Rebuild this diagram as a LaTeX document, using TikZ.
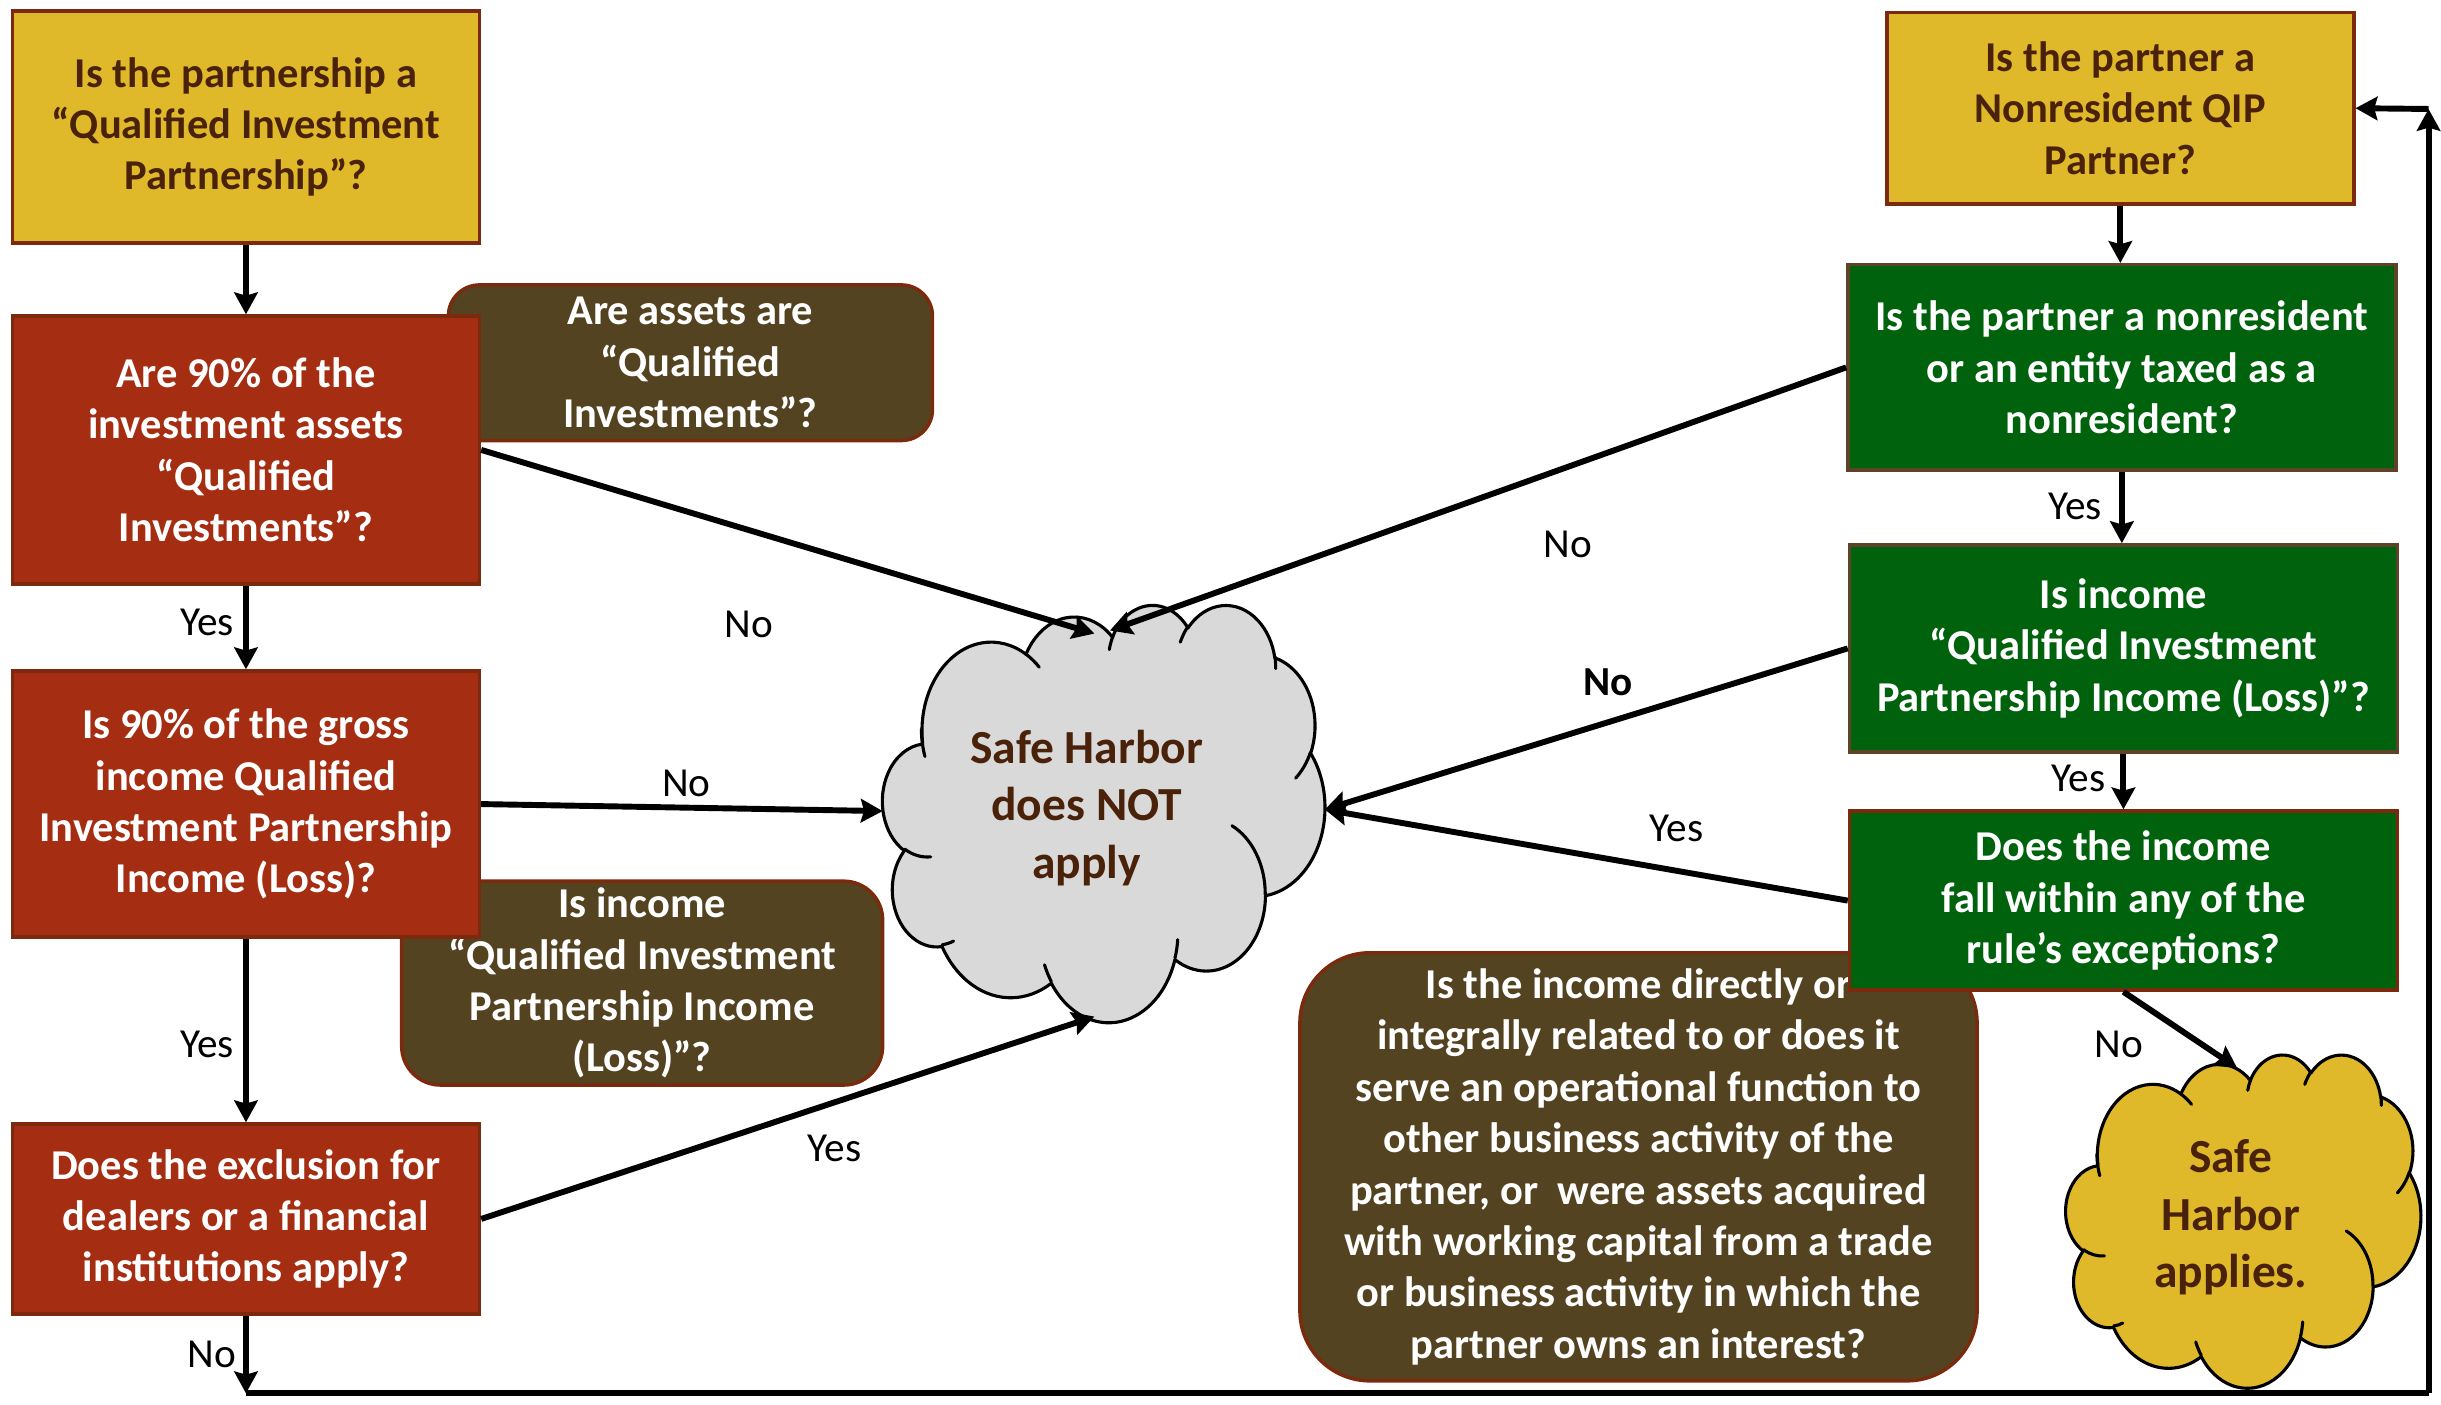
\documentclass[tikz,border=0pt]{standalone}
\usepackage{fontspec}
\setmainfont{Carlito}
\usetikzlibrary{arrows.meta}
\definecolor{gold}{HTML}{E0B92A}
\definecolor{rust}{HTML}{A52D11}
\definecolor{olive}{HTML}{544321}
\definecolor{grn}{HTML}{00620C}
\definecolor{bdr}{HTML}{7B2A0E}
\definecolor{gbdr}{HTML}{5D4328}
\definecolor{dtxt}{HTML}{4A2109}
\definecolor{cgray}{HTML}{D9D9D9}
\tikzset{
  boxbase/.style={rectangle, line width=2.2pt, inner sep=0pt, align=center,
    font=\bfseries\fontsize{27.3}{33}\selectfont,
    execute at begin node={\rule{0pt}{25pt}}},
  goldbox/.style={boxbase, fill=gold, draw=bdr, text=dtxt},
  rustbox/.style={boxbase, fill=rust, draw=bdr, text=white},
  olivebox/.style={boxbase, fill=olive, draw=bdr, text=white, rounded corners=#1},
  greenbox/.style={boxbase, fill=grn, draw=gbdr, text=white},
  cloudtext/.style={align=center, inner sep=0pt, text=dtxt,
    font=\bfseries\fontsize{30.5}{37}\selectfont},
  arr/.style={line width=3.8pt, draw=black, -{Stealth[length=14pt,width=15pt,inset=2pt]}},
  plain/.style={line width=3.8pt, draw=black},
  lbl/.style={font=\fontsize{26.5}{30}\selectfont, text=black, inner sep=0pt},
  lblb/.style={font=\bfseries\fontsize{26.5}{30}\selectfont, text=black, inner sep=0pt}
}
% arc with DrawingML (visual) angles
\newcommand\cldarc[4]{arc[x radius=#1, y radius=#2, start angle={cvis(#1,#2,#3)}, delta angle={cdlt(#1,#2,#3,#4)}]}
% PowerPoint-like cloud: #1 left, #2 top, #3 width, #4 height, #5 fill
\newcommand\pptcloud[5]{%
\begin{scope}[shift={(#1,#2)}, xscale={#3/432}, yscale={#4/432}]
\filldraw[fill=#5, draw=black, line width=2pt, line join=round]
  (39.00,143.70)
  \cldarc{67.53}{91.90}{-190.4875}{123.7805}
  \cldarc{53.33}{72.67}{-144.1024}{89.9452}
  \cldarc{43.65}{59.45}{-145.8079}{99.7230}
  \cldarc{48.57}{65.95}{-130.9861}{117.2417}
  \cldarc{53.33}{72.73}{-78.7089}{109.0269}
  \cldarc{67.75}{92.20}{-46.2673}{130.2690}
  \cldarc{57.85}{78.67}{0.6250}{114.0333}
  \cldarc{67.52}{92.15}{22.4516}{115.1726}
  \cldarc{77.20}{105.43}{66.2426}{75.7110}
  \cldarc{43.60}{59.18}{-274.9421}{146.7356}
  \cldarc{43.45}{59.45}{-246.8285}{152.5189}
  -- cycle;
\draw[line width=2pt, line cap=round]
  (46.93,261.77) \cldarc{43.45}{59.45}{86.7420}{26.4295}
  (69.28,348.99) \cldarc{43.60}{59.18}{73.6105}{11.4475}
  (164.78,390.90) \cldarc{67.52}{92.15}{137.6242}{14.0811}
  (288.27,347.51) \cldarc{67.52}{92.15}{6.4533}{15.9984}
  (341.29,229.54) \cldarc{57.85}{78.67}{-70.2924}{70.9174}
  (417.98,153.54) \cldarc{53.33}{72.73}{30.3180}{27.7515}
  (383.24,54.26) \cldarc{48.57}{65.95}{-13.7443}{14.8589}
  (290.78,39.52) \cldarc{48.57}{65.95}{-149.1815}{18.1954}
  (221.41,47.20) \cldarc{43.65}{59.45}{-163.4943}{17.6864}
  (140.00,51.92) \cldarc{67.53}{91.90}{-66.7070}{12.3194}
  (41.27,157.89) \cldarc{67.53}{91.90}{155.6384}{23.775};
\end{scope}}
\begin{document}
\begin{tikzpicture}[x=1pt,y=-1pt,
  declare function={cvis(\a,\b,\t)=atan2(\a*sin(\t),\b*cos(\t));
                    cdlt(\a,\b,\s,\w)=mod(cvis(\a,\b,\s+\w)-cvis(\a,\b,\s)+720,360);}]
\useasboundingbox[fill=white] (0,0) rectangle (1568,902);

% left column
\node[goldbox, minimum width=300pt, minimum height=149pt] (A) at (158,81.5)
  {Is the partnership a\\“Qualified Investment\\Partnership”?};
\node[olivebox=20pt, minimum width=311pt, minimum height=100pt] (C) at (443.5,233)
  {Are assets are\\“Qualified\\Investments”?};
\node[rustbox, minimum width=300pt, minimum height=172pt] (B) at (158,289)
  {Are 90\% of the\\investment assets\\“Qualified\\Investments”?};
\node[olivebox=25pt, minimum width=309pt, minimum height=131pt] (E) at (412.5,631.5)
  {Is income\\“Qualified Investment\\Partnership Income\\(Loss)”?};
\node[rustbox, minimum width=300pt, minimum height=171pt] (D) at (158,516.5)
  {Is 90\% of the gross\\income Qualified\\Investment Partnership\\Income (Loss)?};
\node[rustbox, minimum width=300pt, minimum height=122pt] (F) at (158,783)
  {Does the exclusion for\\dealers or a financial\\institutions apply?};

% right column
\node[goldbox, minimum width=300pt, minimum height=123pt] (G) at (1362,69.5)
  {Is the partner a\\Nonresident QIP\\Partner?};
\node[greenbox, minimum width=352pt, minimum height=132pt] (H) at (1363,236)
  {Is the partner a nonresident\\or an entity taxed as a\\nonresident?};
\node[greenbox, minimum width=352pt, minimum height=133pt] (I) at (1364,416.5)
  {Is income\\“Qualified Investment\\Partnership Income (Loss)”?};
\node[olivebox=45pt, minimum width=435pt, minimum height=275pt] (K) at (1052.5,749.5)
  {Is the income directly or\\integrally related to or does it\\serve an operational function to\\other business activity of the\\partner, or\ \ were assets acquired\\with working capital from a trade\\or business activity in which the\\partner owns an interest?};
\node[greenbox, draw=bdr, minimum width=352pt, minimum height=115pt] (J) at (1364,578.5)
  {Does the income\\fall within any of the\\rule’s exceptions?};

% clouds
\pptcloud{567}{388}{284}{268}{cgray}
\node[cloudtext] (L) at (698,519) {Safe Harbor\\does NOT\\apply};
\pptcloud{1327}{677}{228}{214}{gold}
\node[cloudtext] (M) at (1433,782) {Safe\\Harbor\\applies.};

\coordinate (Lt1) at (703,407);
\coordinate (Lt2) at (713,405);
\coordinate (Ll) at (567,521);
\coordinate (Lr) at (851,520);
\coordinate (Lb) at (703,653);
\coordinate (Mt) at (1437,686);
\coordinate (bl) at (158,895);
\coordinate (br) at (1560,895);
\coordinate (tr) at (1560,70);

% connectors left
\draw[arr] (A) -- (B);
\draw[arr] (B) -- (D) node[lbl] at (133,400) {Yes};
\draw[arr] (D) -- (F) node[lbl] at (133,671) {Yes};
\draw[arr] (F) -- (bl) node[lbl] at (136,870) {No};
\draw[plain] (bl) -- (br);
\draw[arr] (br) -- (tr);
\draw[arr] (tr) -- (G.east);
\draw[arr] (B.east) -- (Lt1) node[lbl] at (481,401) {No};
\draw[arr] (D.east) -- (Ll) node[lbl] at (441,503) {No};
\draw[arr] (F.east) -- (Lb) node[lbl] at (536,738) {Yes};

% connectors right
\draw[arr] (G) -- (G.south |- H.north);
\draw[arr] (H) -- (H.south |- I.north) node[lbl] at (1333,325) {Yes};
\draw[arr] (I) -- (I.south |- J.north) node[lbl] at (1335,500) {Yes};
\draw[arr] (H.west) -- (Lt2) node[lbl] at (1007,350) {No};
\draw[arr] (I.west) -- (Lr) node[lblb] at (1033,438) {No};
\draw[arr] (J.west) -- (Lr) node[lbl] at (1077,532) {Yes};
\draw[arr] (J.south) -- (Mt) node[lbl] at (1361,671) {No};
\end{tikzpicture}
\end{document}
